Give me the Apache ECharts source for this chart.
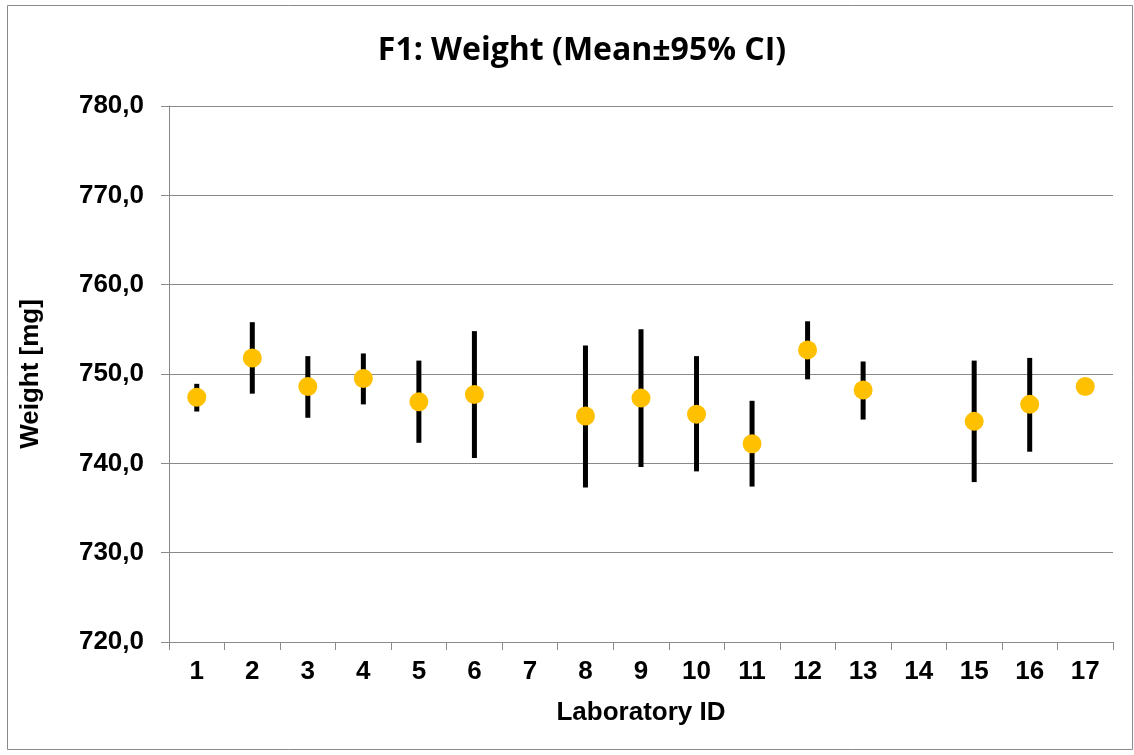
<!DOCTYPE html>
<html>
<head>
<meta charset="utf-8">
<script src="https://cdn.jsdelivr.net/npm/echarts@6/dist/echarts.min.js"></script>
<style>
  html, body { margin: 0; padding: 0; background: #fff; }
  #chart { width: 1134px; height: 755px; }
</style>
</head>
<body>
<div id="chart"></div>
<script>
// laboratory ids on x axis
var labs = ['1', '2', '3', '4', '5', '6', '7', '8', '9', '10', '11', '12', '13', '14', '15', '16', '17'];
// mean weight per lab (mg), null = no result
var means = [747.4, 751.8, 748.6, 749.5, 746.9, 747.7, null, 745.3, 747.3, 745.5, 742.2, 752.7, 748.2, null, 744.7, 746.6, 748.6];
// 95% CI bounds
var upper = [748.9, 755.8, 752.0, 752.3, 751.5, 754.8, null, 753.2, 755.0, 752.0, 747.0, 755.9, 751.4, null, 751.5, 751.8, null];
var lower = [745.8, 747.8, 745.1, 746.6, 742.3, 740.6, null, 737.3, 739.6, 739.1, 737.4, 749.4, 744.9, null, 737.9, 741.3, null];

var ciData = [];
for (var i = 0; i < labs.length; i++) {
  if (upper[i] != null && lower[i] != null) ciData.push([i, lower[i], upper[i]]);
}

var gray = '#898989';
var font = '"Liberation Sans", Arial, sans-serif';

var myChart = echarts.init(document.getElementById('chart'));
myChart.setOption({
  animation: false,
  backgroundColor: '#fff',
  title: {
    text: 'F1: Weight (Mean\u00B195% CI)',
    left: 577,
    top: 30,
    textAlign: 'center',
    textStyle: { fontFamily: '"Open Sans", sans-serif', fontWeight: 'bold', fontSize: 32, color: '#000' }
  },
  graphic: [{
    type: 'rect',
    shape: { x: 7.5, y: 5.5, width: 1125, height: 744 },
    style: { fill: null, stroke: gray, lineWidth: 1 },
    silent: true
  }],
  grid: { left: 169, right: 21, top: 106, bottom: 113 },
  xAxis: {
    type: 'category',
    data: labs,
    boundaryGap: true,
    name: 'Laboratory ID',
    nameLocation: 'middle',
    nameGap: 58,
    nameTextStyle: { fontFamily: font, fontWeight: 'bold', fontSize: 26, color: '#000', verticalAlign: 'top' },
    axisLine: { lineStyle: { color: gray, width: 1 } },
    axisTick: { show: true, length: 8, alignWithLabel: false, lineStyle: { color: gray } },
    axisLabel: { margin: 17, fontFamily: font, fontWeight: 'bold', fontSize: 26, color: '#000' },
    splitLine: { show: false }
  },
  yAxis: {
    type: 'value',
    min: 720,
    max: 780,
    interval: 10,
    name: 'Weight [mg]',
    nameLocation: 'middle',
    nameGap: 125,
    nameRotate: 90,
    nameTextStyle: { fontFamily: font, fontWeight: 'bold', fontSize: 26, color: '#000' },
    axisLine: { show: true, lineStyle: { color: gray, width: 1 } },
    axisTick: { show: true, length: 8, lineStyle: { color: gray } },
    axisLabel: {
      margin: 25,
      fontFamily: font, fontWeight: 'bold', fontSize: 26, color: '#000',
      formatter: function (v) { return v.toFixed(1).replace('.', ','); }
    },
    splitLine: { show: true, lineStyle: { color: gray, width: 1 } }
  },
  series: [{
    type: 'custom',
    name: 'CI',
    data: ciData,
    z: 2,
    renderItem: function (params, api) {
      var top = api.coord([api.value(0), api.value(2)]);
      var bot = api.coord([api.value(0), api.value(1)]);
      return {
        type: 'line',
        shape: { x1: top[0], y1: top[1], x2: bot[0], y2: bot[1] },
        style: { stroke: '#000', lineWidth: 5 }
      };
    }
  }, {
    type: 'scatter',
    name: 'Mean',
    data: means,
    z: 3,
    symbol: 'circle',
    symbolSize: 19,
    itemStyle: { color: '#FFC000', opacity: 1 }
  }]
});
</script>
</body>
</html>
